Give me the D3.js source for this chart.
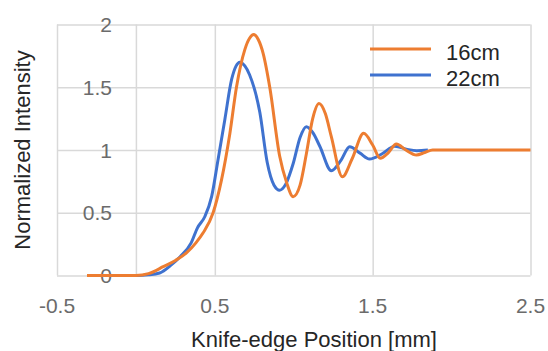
<!DOCTYPE html>
<html>
<head>
<meta charset="utf-8">
<script src="https://cdnjs.cloudflare.com/ajax/libs/d3/7.8.5/d3.min.js"></script>
<style>
	body { margin: 0; background: #fff; }
	svg { font-family: "Liberation Sans", Arial, sans-serif; }
	.grid line { stroke: #d9d9d9; stroke-width: 1.5; }
	.tick-label { fill: #6b6b6b; font-size: 21px; }
	.title { fill: #262626; font-size: 22px; }
	.line { fill: none; stroke-width: 3; stroke-linejoin: round; }
</style>
</head>
<body>
<div id="chart"></div>
<script>
let xTicks		= [-0.5, 0.5, 1.5, 2.5];
let yTicks		= [0, 0.5, 1, 1.5, 2];
let seriesNames	= ["16cm", "22cm"];
let colors		= ["#ed7d31", "#3f72cf"];

// 16cm
let x16 = [-0.31, 0, 0.08, 0.173, 0.25, 0.32, 0.38, 0.426, 0.489, 0.542, 0.595, 0.637, 0.69, 0.72, 0.747, 0.775, 0.806, 0.848, 0.911, 0.955, 0.996, 1.04, 1.08, 1.12, 1.16, 1.2, 1.238, 1.308, 1.37, 1.443, 1.5, 1.548, 1.6, 1.65, 1.71, 1.777, 1.83, 1.88, 2.5];
let y16 = [0, 0, 0.015, 0.07, 0.12, 0.18, 0.26, 0.34, 0.5, 0.76, 1.13, 1.5, 1.8, 1.89, 1.92, 1.88, 1.77, 1.5, 0.95, 0.74, 0.628, 0.72, 0.97, 1.25, 1.37, 1.29, 1.106, 0.787, 0.93, 1.133, 1.04, 0.934, 0.98, 1.048, 1.0, 0.96, 0.98, 1.0, 1.0];

// 22cm
let x22 = [-0.3, 0, 0.08, 0.15, 0.22, 0.28, 0.35, 0.39, 0.437, 0.48, 0.52, 0.563, 0.606, 0.635, 0.658, 0.69, 0.72, 0.785, 0.832, 0.875, 0.911, 0.95, 0.996, 1.04, 1.08, 1.12, 1.165, 1.238, 1.3, 1.354, 1.42, 1.48, 1.56, 1.64, 1.72, 1.78, 1.85];
let y22 = [0, 0, 0.005, 0.02, 0.08, 0.15, 0.26, 0.38, 0.47, 0.63, 0.92, 1.24, 1.56, 1.67, 1.7, 1.67, 1.6, 1.3, 0.9, 0.72, 0.68, 0.73, 0.89, 1.1, 1.186, 1.14, 1.03, 0.835, 0.92, 1.026, 0.975, 0.928, 0.97, 1.03, 1.005, 0.995, 1.0];

let canvasWidth		= 548;
let canvasHeight	= 351;
let margin			= { top: 24.5, right: 17.5, bottom: 75.5, left: 57 };
let width			= canvasWidth - margin.left - margin.right;
let height			= canvasHeight - margin.top - margin.bottom;

let x = d3.scaleLinear().range([0, width]).domain([-0.5, 2.5]);
let y = d3.scaleLinear().range([height, 0]).domain([0, 2]);

let line = d3.line()
	.x((o) => x(o.x))
	.y((o) => y(o.y))
	.curve(d3.curveMonotoneX);

let data = [
	_zip(x16, y16),
	_zip(x22, y22)
];

function _zip(xs, ys) { return xs.map((v, i) => ({ x: v, y: ys[i] })); }

let svg = d3.select("#chart").append("svg")
	.attr("width", canvasWidth)
	.attr("height", canvasHeight)
	.append("g")
	.attr("transform", "translate(" + margin.left + "," + margin.top + ")");

// horizontal grid
svg.append("g")
	.attr("class", "grid")
	.call(d3.axisLeft(y).tickValues(yTicks).tickSize(-width).tickFormat(""))
	.call((g) => g.select(".domain").remove());

// vertical grid + value axis line at x = 0
svg.append("g")
	.attr("class", "grid")
	.attr("transform", "translate(0," + height + ")")
	.call(d3.axisBottom(x).tickValues(xTicks.concat([0])).tickSize(-height).tickFormat(""))
	.call((g) => g.select(".domain").remove());

// y tick labels
svg.selectAll(".ylab")
	.data(yTicks)
	.enter().append("text")
		.attr("class", "tick-label")
		.attr("x", x(0) - 24)
		.attr("y", (o) => y(o))
		.attr("dy", "0.36em")
		.attr("text-anchor", "end")
		.text((o) => o);

// x tick labels
svg.selectAll(".xlab")
	.data(xTicks)
	.enter().append("text")
		.attr("class", "tick-label")
		.attr("x", (o) => x(o))
		.attr("y", height + 37)
		.attr("text-anchor", "middle")
		.text((o) => o);

// lines: 22cm under, 16cm on top
[1, 0].forEach((i) => {
	svg.append("path")
		.datum(data[i])
		.attr("class", "line")
		.attr("stroke", colors[i])
		.attr("d", line);
});

// legend
let legend = svg.append("g").attr("transform", "translate(" + (370 - margin.left) + "," + (49 - margin.top) + ")");
seriesNames.forEach((name, i) => {
	legend.append("line")
		.attr("x1", 0).attr("x2", 61)
		.attr("y1", i * 26).attr("y2", i * 26)
		.attr("stroke", colors[i])
		.attr("stroke-width", 3);
	legend.append("text")
		.attr("class", "title")
		.attr("x", 76)
		.attr("y", i * 26 + 3)
		.attr("dy", "0.36em")
		.text(name);
});

// axis titles
svg.append("text")
	.attr("class", "title")
	.attr("x", 314 - margin.left)
	.attr("y", 339 - margin.top)
	.attr("dy", "0.36em")
	.attr("text-anchor", "middle")
	.text("Knife-edge Position [mm]");

svg.append("text")
	.attr("class", "title")
	.attr("transform", "translate(" + (22 - margin.left) + "," + (150 - margin.top) + ") rotate(-90)")
	.attr("dy", "0.36em")
	.attr("text-anchor", "middle")
	.text("Normalized Intensity");
</script>
</body>
</html>
